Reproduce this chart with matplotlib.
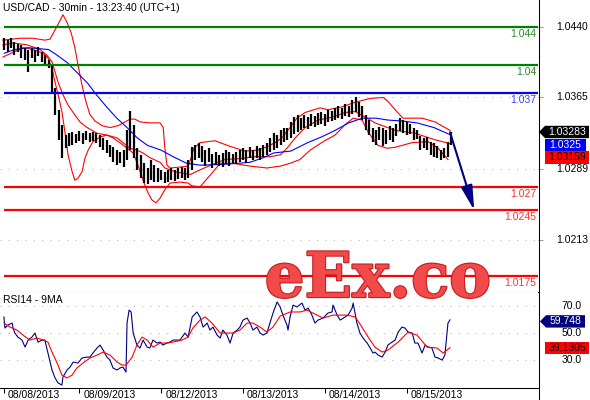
import matplotlib
matplotlib.use('Agg')
import matplotlib.pyplot as plt
from matplotlib.patches import Polygon
from matplotlib.lines import Line2D
import matplotlib.patheffects as pe

plt.rcParams['font.family'] = ['Liberation Sans', 'DejaVu Sans']
plt.rcParams['font.size'] = 7.5

# ---------------- data (x = trading hours since 08/08/2013 00:00) ----------------
bar_hours = list(range(2, 134))
bar_high = [1.0428, 1.0426, 1.0428, 1.0424, 1.0422, 1.0421, 1.0418, 1.0416, 1.0418, 1.0416,
            1.0419, 1.0413, 1.0410, 1.0405, 1.0399, 1.0375, 1.0352, 1.0336, 1.0325, 1.0327,
            1.0328, 1.0326, 1.0329, 1.0327, 1.0329, 1.0327, 1.0328, 1.0327, 1.0325, 1.0322,
            1.0320, 1.0314, 1.0312, 1.0309, 1.0307, 1.0309, 1.0330, 1.0351, 1.0336, 1.0311,
            1.0304, 1.0295, 1.0290, 1.0299, 1.0293, 1.0290, 1.0288, 1.0286, 1.0288, 1.0290,
            1.0288, 1.0290, 1.0291, 1.0290, 1.0299, 1.0312, 1.0314, 1.0317, 1.0313, 1.0309,
            1.0311, 1.0305, 1.0307, 1.0304, 1.0306, 1.0309, 1.0307, 1.0305, 1.0307, 1.0309,
            1.0311, 1.0309, 1.0312, 1.0309, 1.0313, 1.0311, 1.0314, 1.0317, 1.0322, 1.0327,
            1.0325, 1.0330, 1.0333, 1.0333, 1.0339, 1.0344, 1.0346, 1.0343, 1.0346, 1.0344,
            1.0347, 1.0345, 1.0349, 1.0350, 1.0347, 1.0352, 1.0351, 1.0354, 1.0356, 1.0354,
            1.0358, 1.0356, 1.0362, 1.0366, 1.0360, 1.0356, 1.0346, 1.0341, 1.0333, 1.0330,
            1.0334, 1.0333, 1.0330, 1.0335, 1.0333, 1.0337, 1.0343, 1.0341, 1.0339, 1.0337,
            1.0333, 1.0330, 1.0324, 1.0322, 1.0323, 1.0318, 1.0317, 1.0313, 1.0309, 1.0311,
            1.0318, 1.0328]
bar_low = [1.0416, 1.0413, 1.0418, 1.0410, 1.0413, 1.0407, 1.0405, 1.0392, 1.0407, 1.0403,
           1.0409, 1.0403, 1.0400, 1.0396, 1.0371, 1.0346, 1.0320, 1.0301, 1.0311, 1.0313,
           1.0314, 1.0317, 1.0319, 1.0316, 1.0320, 1.0318, 1.0319, 1.0317, 1.0312, 1.0309,
           1.0306, 1.0302, 1.0296, 1.0293, 1.0295, 1.0291, 1.0299, 1.0309, 1.0301, 1.0288,
           1.0279, 1.0274, 1.0273, 1.0277, 1.0275, 1.0275, 1.0277, 1.0274, 1.0275, 1.0277,
           1.0276, 1.0278, 1.0279, 1.0277, 1.0279, 1.0288, 1.0299, 1.0301, 1.0296, 1.0292,
           1.0296, 1.0290, 1.0293, 1.0292, 1.0291, 1.0294, 1.0292, 1.0295, 1.0294, 1.0296,
           1.0299, 1.0295, 1.0301, 1.0299, 1.0301, 1.0299, 1.0302, 1.0304, 1.0307, 1.0309,
           1.0311, 1.0314, 1.0318, 1.0320, 1.0322, 1.0326, 1.0328, 1.0330, 1.0333, 1.0331,
           1.0335, 1.0334, 1.0336, 1.0337, 1.0335, 1.0339, 1.0340, 1.0341, 1.0343, 1.0342,
           1.0345, 1.0344, 1.0347, 1.0350, 1.0344, 1.0341, 1.0330, 1.0325, 1.0318, 1.0314,
           1.0320, 1.0313, 1.0316, 1.0320, 1.0318, 1.0324, 1.0329, 1.0327, 1.0325, 1.0326,
           1.0320, 1.0321, 1.0309, 1.0311, 1.0309, 1.0304, 1.0302, 1.0301, 1.0299, 1.0301,
           1.0302, 1.0314]

ma_h = [2, 5, 9, 12, 15, 17.5, 20.5, 23.5, 26.5, 29, 32, 35, 38, 41, 44, 48, 51.5, 55.5,
        59.5, 67, 74, 78, 81, 86, 91, 95, 99, 103, 107, 111, 114.5, 118.5, 123, 128, 133]
ma_v = [1.0412, 1.0416, 1.0418, 1.0417, 1.0416, 1.0410, 1.0402, 1.0391, 1.0380, 1.0368,
        1.0355, 1.0343, 1.0333, 1.0322, 1.0314, 1.0309, 1.0302, 1.0295, 1.0293, 1.0294,
        1.0296, 1.0301, 1.0306, 1.0308, 1.0317, 1.0323, 1.0330, 1.0338, 1.0343, 1.0343,
        1.0341, 1.0340, 1.0338, 1.0333, 1.0325]

up_h = [1.6, 6.6, 10.4, 13.9, 15.4, 16.9, 18.1, 19.2, 20.4, 21.6, 22.7, 23.6, 24.8, 26.0,
        27.1, 28.6, 30.7, 33.0, 35.4, 37.4, 38.9, 40.3, 41.8, 44.7, 47.7, 48.6, 49.1, 49.7,
        50.6, 53.5, 55.9, 56.8, 57.6, 59.4, 63.8, 68.2, 72.6, 76.4, 79.3, 81.4, 83.4, 85.8,
        87.8, 90.2, 94.6, 96.9, 101.0, 104.9, 109.3, 113.1, 114.5, 116.6, 118.9, 124.5,
        128.3, 132.7]
up_v = [1.0426, 1.0428, 1.0428, 1.0426, 1.0427, 1.0437, 1.0445, 1.0453, 1.0445, 1.0434,
        1.0418, 1.0400, 1.0378, 1.0360, 1.0347, 1.0340, 1.0335, 1.0333, 1.0335, 1.0339,
        1.0342, 1.0342, 1.0339, 1.0338, 1.0338, 1.0333, 1.0311, 1.0293, 1.0290, 1.0291,
        1.0292, 1.0301, 1.0311, 1.0317, 1.0319, 1.0313, 1.0308, 1.0309, 1.0313, 1.0317,
        1.0322, 1.0333, 1.0343, 1.0349, 1.0354, 1.0352, 1.0355, 1.0360, 1.0364, 1.0365,
        1.0361, 1.0352, 1.0343, 1.0343, 1.0339, 1.0330]

mid_h = [1.6, 4.6, 8.7, 12.5, 14.5, 16.0, 16.9, 17.8, 19.2, 20.7, 22.2, 24.2, 26.3, 29.2,
         32.1, 35.1, 36.8, 38.9, 40.9, 42.7, 44.7, 47.7, 49.1, 52.1, 56.5, 59.4, 63.2, 66.7,
         71.1, 75.5, 79.9, 82.9, 84.9, 87.3, 90.2, 94.0, 98.1, 101.9, 104.9, 108.4, 110.7,
         116.6, 122.4, 128.3, 132.7]
mid_v = [1.0421, 1.0423, 1.0421, 1.0416, 1.0410, 1.0403, 1.0392, 1.0381, 1.0368, 1.0357,
         1.0349, 1.0339, 1.0333, 1.0327, 1.0325, 1.0322, 1.0317, 1.0311, 1.0309, 1.0306,
         1.0301, 1.0296, 1.0290, 1.0286, 1.0283, 1.0288, 1.0294, 1.0299, 1.0300, 1.0302,
         1.0302, 1.0304, 1.0311, 1.0322, 1.0333, 1.0341, 1.0344, 1.0349, 1.0350, 1.0343,
         1.0338, 1.0330, 1.0327, 1.0320, 1.0316]

low_h = [1.6, 4.6, 7.5, 10.4, 13.4, 14.8, 16.0, 16.9, 17.8, 18.9, 19.8, 20.7, 21.9, 22.7,
         23.6, 24.8, 25.7, 26.6, 28.0, 30.1, 32.1, 33.9, 35.9, 38.0, 39.8, 41.2, 42.7, 44.1,
         45.3, 46.5, 47.7, 49.1, 50.6, 53.5, 55.9, 57.0, 59.4, 62.3, 65.3, 69.1, 74.1, 79.0,
         82.9, 85.8, 88.7, 91.7, 95.5, 99.0, 101.9, 104.3, 106.9, 108.7, 111.6, 114.2, 116.6,
         121.6, 126.3, 129.2, 132.1]
low_v = [1.0408, 1.0413, 1.0418, 1.0416, 1.0412, 1.0407, 1.0396, 1.0381, 1.0368, 1.0350,
         1.0328, 1.0304, 1.0286, 1.0277, 1.0279, 1.0286, 1.0301, 1.0309, 1.0318, 1.0323,
         1.0325, 1.0322, 1.0317, 1.0311, 1.0306, 1.0293, 1.0277, 1.0264, 1.0256, 1.0253,
         1.0258, 1.0267, 1.0274, 1.0275, 1.0274, 1.0271, 1.0270, 1.0282, 1.0295, 1.0295,
         1.0292, 1.0290, 1.0292, 1.0295, 1.0299, 1.0309, 1.0318, 1.0325, 1.0336, 1.0343,
         1.0341, 1.0328, 1.0314, 1.0311, 1.0312, 1.0317, 1.0318, 1.0311, 1.0299]

rsi_h = [1.9, 2.2, 3.1, 4.3, 4.6, 5.1, 6.0, 7.2, 8.1, 9.0,
         10.1, 11.0, 11.9, 13.1, 13.9, 14.8, 16.0, 16.9, 17.8, 18.9,
         19.2, 20.4, 21.3, 22.2, 23.6, 24.8, 26.3, 27.1, 28.0, 29.2,
         30.1, 31.0, 32.1, 33.0, 33.9, 35.1, 35.9, 36.8, 37.7, 38.0,
         38.6, 39.2, 39.8, 40.9, 41.8, 42.7, 43.9, 44.7, 45.6, 46.8,
         47.7, 48.5, 49.7, 50.6, 51.5, 53.5, 55.0, 55.9, 57.1, 58.5,
         59.4, 60.3, 61.5, 62.3, 63.2, 64.4, 65.3, 66.1, 67.3, 68.2,
         69.1, 70.3, 71.1, 72.0, 73.2, 74.1, 74.9, 76.1, 77.0, 77.9,
         79.0, 79.9, 80.8, 82.0, 82.9, 83.7, 84.9, 85.2, 85.8, 86.7,
         87.8, 89.3, 90.2, 91.1, 92.2, 93.1, 94.0, 95.5, 96.9, 98.1,
         98.4, 99.6, 100.5, 101.9, 102.8, 104.0, 104.3, 105.4, 106.3, 107.2,
         108.4, 109.3, 110.1, 110.7, 111.6, 112.8, 113.7, 114.5, 115.7, 116.6,
         117.5, 118.6, 119.5, 120.4, 121.6, 122.4, 123.3, 124.5, 125.4, 126.3,
         127.4, 128.3, 129.2, 130.4, 131.2, 132.1, 132.7]
rsi_v = [61.9, 53.7, 55.9, 57.4, 53.7, 50.0, 47.0, 44.8, 39.6, 44.8,
         47.0, 50.0, 43.3, 44.8, 44.8, 35.2, 22.6, 16.7, 13.0, 11.5,
         17.4, 22.6, 24.8, 28.5, 27.8, 31.5, 32.2, 32.2, 35.2, 38.9,
         41.1, 37.4, 32.2, 30.0, 24.1, 22.6, 24.1, 24.8, 21.1, 57.4,
         67.0, 65.6, 50.0, 41.1, 38.9, 44.8, 39.6, 38.9, 44.8, 42.6,
         43.3, 41.1, 42.6, 43.3, 44.8, 44.8, 50.0, 47.0, 61.9, 65.6,
         61.9, 54.4, 57.4, 52.2, 54.4, 48.5, 46.3, 52.2, 48.5, 42.6,
         50.0, 52.2, 54.4, 59.6, 61.1, 57.4, 52.2, 54.4, 50.0, 48.5,
         50.0, 57.4, 64.8, 73.0, 69.3, 63.3, 55.9, 52.2, 61.9, 70.7,
         69.3, 72.2, 67.0, 68.5, 63.3, 57.4, 59.6, 61.1, 64.8, 65.6,
         70.7, 63.3, 59.6, 61.9, 63.3, 68.5, 72.2, 57.4, 50.0, 46.3,
         42.6, 38.9, 35.2, 35.9, 33.7, 32.2, 35.9, 41.1, 43.3, 44.8,
         50.7, 54.4, 53.7, 50.7, 50.0, 42.6, 42.6, 35.2, 41.1, 39.6,
         38.9, 32.2, 31.5, 30.0, 33.7, 57.4, 59.748]

rsi_ma_h = [1.9, 3.7, 5.7, 7.5, 9.5, 11.6, 13.4, 14.8, 16.0, 17.5,
            18.9, 20.4, 21.9, 23.3, 25.1, 27.1, 29.2, 31.0, 33.0, 35.1,
            36.5, 37.7, 39.5, 40.9, 42.4, 43.9, 45.6, 47.7, 49.7, 51.5,
            54.1, 55.9, 57.3, 59.4, 60.9, 62.9, 65.3, 67.3, 69.1, 71.1,
            73.2, 74.9, 77.0, 79.0, 80.8, 82.9, 85.8, 88.7, 90.8, 92.5,
            95.5, 98.4, 102.5, 104.9, 106.9, 108.7, 110.7, 112.8, 114.5, 117.5,
            120.4, 123.0, 126.0, 128.9, 130.7, 131.8, 132.7]
rsi_ma_v = [57.4, 54.4, 52.2, 48.5, 44.8, 46.3, 44.8, 43.3, 35.9, 27.8,
            18.9, 16.7, 18.9, 24.1, 27.8, 31.5, 33.7, 35.9, 33.7, 28.5,
            26.3, 26.3, 32.2, 41.1, 47.0, 44.8, 39.6, 42.6, 42.6, 43.3,
            44.8, 47.0, 53.7, 59.6, 61.9, 57.4, 50.0, 50.0, 50.0, 52.2,
            57.4, 57.4, 54.4, 50.7, 54.4, 62.6, 65.6, 65.6, 67.0, 64.8,
            61.1, 63.3, 63.3, 61.9, 54.4, 47.0, 39.6, 35.9, 37.4, 43.3,
            50.7, 48.5, 39.6, 38.9, 35.2, 37.4, 39.1305]

levels = [1.044, 1.04, 1.037, 1.027, 1.0245, 1.0175]
level_labels = ['1.044', '1.04', '1.037', '1.027', '1.0245', '1.0175']
level_colors = ['#008000', '#008000', '#0000ff', '#ff0000', '#ff0000', '#ff0000']
level_text_colors = ['#2e8b2e', '#2e8b2e', '#3c3cff', '#ff3030', '#ff3030', '#ff3030']

price_ticks = [1.0440, 1.0365, 1.0289, 1.0213]
price_tick_labels = ['1.0440', '1.0365', '1.0289', '1.0213']
rsi_ticks = [70, 50, 30]
rsi_tick_labels = ['70.0', '50.0', '30.0']

day_ticks = [1.9, 24, 48, 72, 96, 120]
day_labels = ['08/08/2013', '08/09/2013', '08/12/2013', '08/13/2013', '08/14/2013', '08/15/2013']

last_price = 1.03283
last_ma = 1.0325
last_mid = 1.03159
last_rsi = 59.748
last_rsi_ma = 39.1305

arrow_start = (132.7, 1.0328)
arrow_end = (139.8, 1.0245)

# ---------------- figure ----------------
W, H = 590, 400
fig = plt.figure(figsize=(W / 100, H / 100), dpi=100)
fig.patch.set_facecolor('white')
AXR = 538 / W
ax = fig.add_axes([0, 108 / H, AXR, 292 / H])
rx = fig.add_axes([0, 12 / H, AXR, 96 / H])

XMIN, XMAX = 0.75, 158.5
ax.set_xlim(XMIN, XMAX)
rx.set_xlim(XMIN, XMAX)
ax.set_ylim(1.01581, 1.04687)
rx.set_ylim(9.3, 80.4)

for a in (ax, rx):
    for s in ('left', 'top', 'right'):
        a.spines[s].set_visible(False)
    a.spines['bottom'].set_color('black')
    a.spines['bottom'].set_linewidth(0.75)
    a.set_facecolor('white')

grid_kw = dict(color='#b8b8b8', linestyle=(0, (1, 7)), linewidth=0.75)
ax.set_yticks(price_ticks)
ax.yaxis.grid(True, **grid_kw)
ax.tick_params(axis='y', left=False, right=True, labelleft=False, labelright=False,
               length=3.6, width=0.75, color='#a0a0a0')
ax.tick_params(axis='x', bottom=False, labelbottom=False)
ax.set_axisbelow(True)

rx.set_yticks(rsi_ticks)
rx.yaxis.grid(True, **grid_kw)
rx.tick_params(axis='y', left=False, right=False, labelleft=False, labelright=False)
rx.set_xticks(day_ticks)
rx.tick_params(axis='x', direction='out', length=3.6, width=0.75, color='black',
               labelbottom=False)
rx.set_axisbelow(True)

# full-height right border
fig.add_artist(Line2D([538.5 / W, 538.5 / W], [0, 1], transform=fig.transFigure,
                      color='black', lw=0.75))

# price bars
ax.vlines(bar_hours, bar_low, bar_high, color='black', lw=1.6, zorder=4)
# bands and moving average
ax.plot(up_h, up_v, color='#ff0000', lw=0.8, zorder=3)
ax.plot(mid_h, mid_v, color='#ff0000', lw=0.8, zorder=3)
ax.plot(low_h, low_v, color='#ff0000', lw=0.8, zorder=3)
ax.plot(ma_h, ma_v, color='#0000ff', lw=0.8, zorder=3)

# level lines
ax.hlines(levels, day_ticks[0], XMAX, colors=level_colors, lw=1.6, zorder=5)
for lv, lb, tc in zip(levels, level_labels, level_text_colors):
    ax.annotate(lb, xy=(1, lv), xycoords=('axes fraction', 'data'), xytext=(-2, -2),
                textcoords='offset pixels', ha='right', va='top', color=tc,
                fontsize=7.5, zorder=6)

# forecast arrow
ax.annotate('', xy=arrow_end, xytext=arrow_start,
            arrowprops=dict(arrowstyle='-|>,head_length=1.5,head_width=0.35',
                            color='#000080', lw=1.5, mutation_scale=10,
                            shrinkA=0, shrinkB=0), zorder=7)

# RSI
rx.plot(rsi_h, rsi_v, color='#000080', lw=0.8, zorder=3)
rx.plot(rsi_ma_h, rsi_ma_v, color='#ff0000', lw=0.8, zorder=3)

# ------- text -------
fig.text(3 / W, (H - 11) / H, 'USD/CAD - 30min - 13:23:40 (UTC+1)', fontsize=7.5,
         va='baseline', ha='left', color='black')
fig.text(3 / W, (H - 303) / H, 'RSI14 - 9MA', fontsize=7.5, va='baseline',
         ha='left', color='black')

inv = fig.transFigure.inverted()


def fy(a, v):
    return inv.transform(a.transData.transform((XMIN, v)))[1]


for v, lb in zip(price_ticks, price_tick_labels):
    fig.text(572 / W, fy(ax, v), lb, ha='center', va='center', fontsize=7.5)
for v, lb in zip(rsi_ticks, rsi_tick_labels):
    fig.text(572 / W, fy(rx, v), lb, ha='center', va='center', fontsize=7.5)

for t, lb in zip(day_ticks, day_labels):
    xf = inv.transform(rx.transData.transform((t, 0)))[0]
    fig.text(xf + 4 / W, (H - 397.5) / H, lb, ha='left', va='baseline', fontsize=7.5)


def tag(yc_px, text, fc, tc, x0, x1, pointed):
    """yc_px: centre in display pixels (origin bottom)."""
    hh = 6.2
    if pointed:
        pts = [(x0 - 6, yc_px), (x0, yc_px + hh), (x1, yc_px + hh), (x1, yc_px - hh),
               (x0, yc_px - hh)]
    else:
        pts = [(x0, yc_px + hh), (x1, yc_px + hh), (x1, yc_px - hh), (x0, yc_px - hh)]
    pts = [(x / W, y / H) for x, y in pts]
    fig.add_artist(Polygon(pts, closed=True, transform=fig.transFigure, facecolor=fc,
                           edgecolor='none', zorder=10))
    fig.text((x0 + x1) / 2 / W, yc_px / H, text, ha='center', va='center', color=tc,
             fontsize=7.5, zorder=11)


y_last = fy(ax, last_price) * H
tag(y_last, '1.03283', 'black', 'white', 545, 589, True)
tag(y_last - 12.8, '1.0325', '#0000ff', 'white', 545, 586, False)
tag(y_last - 25.4, '1.03159', '#ff0000', 'black', 545, 589, False)
tag(fy(rx, last_rsi) * H - 1.5, '59.748', '#000080', 'white', 546, 585, True)
tag(fy(rx, last_rsi_ma) * H, '39.1305', '#ff0000', 'black', 545, 589, False)

# watermark
fig.text(378 / W, (H - 297) / H, 'eEx.co', fontsize=45, family='DejaVu Serif',
         weight='bold', color='#f24a4a', ha='center', va='baseline', zorder=20,
         path_effects=[pe.withStroke(linewidth=1.6, foreground='#c41e1e')])

fig.savefig('out.png', dpi=100, facecolor='white')
